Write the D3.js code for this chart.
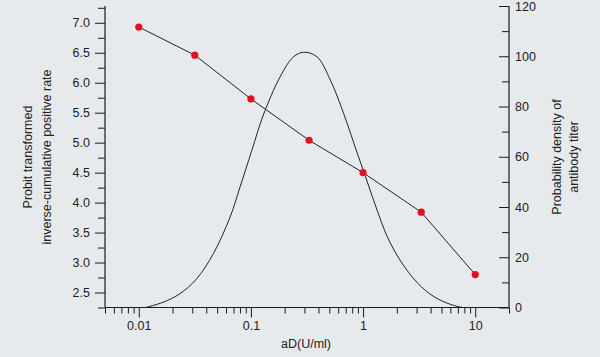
<!DOCTYPE html>
<html>
<head>
<meta charset="utf-8">
<script src="https://cdn.jsdelivr.net/npm/d3@7"></script>
<style>
html,body{margin:0;padding:0;background:#e7eaed;}
svg{display:block;}
text{font-family:"Liberation Sans",Arial,sans-serif;fill:#222;}
</style>
</head>
<body>
<svg id="chart" width="600" height="357"></svg>
<script>
// Probit points (left axis)
const probitX = [0.01, 0.0316, 0.1, 0.33, 1, 3.3, 10];
const probitY = [6.93, 6.46, 5.73, 5.04, 4.50, 3.84, 2.80];

// Probability density curve (right axis)
const densX = [0.0115, 0.0165, 0.0233, 0.0328, 0.0462, 0.0652, 0.080, 0.102, 0.129, 0.182, 0.240, 0.295, 0.388, 0.511, 0.671, 0.91, 1.09, 1.34, 1.64, 2.16, 3.05, 4.29, 6.05, 7.7];
const densY = [0, 2.1, 5.5, 11.4, 21.4, 36.0, 48.0, 62.6, 76.6, 91.8, 99.8, 101.6, 99.8, 90.5, 77.2, 60, 50, 38.5, 28.3, 18.5, 9.8, 4.3, 1.2, 0];

// Tick labels
const xMajorTicks = [0.01, 0.1, 1, 10];
const xTickLabels = ["0.01", "0.1", "1", "10"];
const leftMajorTicks = [2.5, 3.0, 3.5, 4.0, 4.5, 5.0, 5.5, 6.0, 6.5, 7.0];
const rightMajorTicks = [0, 20, 40, 60, 80, 100, 120];

const xTitle = "aD(U/ml)";
const leftTitle = ["Probit transformed", "inverse-cumulative positive rate"];
const rightTitle = ["Probability density of", "antibody titer"];

const svg = d3.select("#chart");
const L = 105, R = 509, T = 6, B = 307.5;

const x = d3.scaleLog().domain([0.005, 20]).range([L, R]);
const yL = d3.scaleLinear().domain([2.25, 7.28]).range([B, T]);
const yR = d3.scaleLinear().domain([0, 120]).range([B, T]);

// minor tick values
const xMinor = [];
[0.001, 0.01, 0.1, 1].forEach(d => { for (let k = 2; k <= 9; k++) { const v = +(d * k).toPrecision(3); if (v >= 0.005 && v <= 20) xMinor.push(v); } });
xMinor.push(20);
const leftMinor = d3.range(2.25, 7.3, 0.5).map(v => +v.toFixed(2));
const rightMinor = d3.range(10, 120, 20);

const g = svg.append("g");
const stroke = "#1a1a1a";

// X axis
const xAxisMajor = d3.axisBottom(x).tickValues(xMajorTicks).tickSize(10).tickPadding(4)
  .tickFormat((d, i) => xTickLabels[i]);
const xAx = g.append("g").attr("transform", `translate(0,${B})`).call(xAxisMajor);
const xAxMinor = g.append("g").attr("transform", `translate(0,${B})`)
  .call(d3.axisBottom(x).tickValues(xMinor).tickSize(6).tickFormat(""));
xAxMinor.select(".domain").remove();

// Left axis
const lAx = g.append("g").attr("transform", `translate(${L},0)`)
  .call(d3.axisLeft(yL).tickValues(leftMajorTicks).tickSize(10).tickPadding(5).tickFormat(d3.format(".1f")));
const lAxMinor = g.append("g").attr("transform", `translate(${L},0)`)
  .call(d3.axisLeft(yL).tickValues(leftMinor).tickSize(7).tickFormat(""));
lAxMinor.select(".domain").remove();

// Right axis: ticks point inward, labels outside
const rAx = g.append("g").attr("transform", `translate(${R},0)`)
  .call(d3.axisRight(yR).tickValues(rightMajorTicks).tickSize(0).tickPadding(6));
rAx.selectAll(".tick line").attr("x2", -10).attr("stroke", stroke);
const rAxMinor = g.append("g").attr("transform", `translate(${R},0)`)
  .call(d3.axisRight(yR).tickValues(rightMinor).tickSize(0).tickFormat(""));
rAxMinor.selectAll(".tick line").attr("x2", -7).attr("stroke", stroke);
rAxMinor.select(".domain").remove();

svg.selectAll(".domain").attr("stroke", stroke).attr("stroke-width", 1.2);
svg.selectAll(".tick line").attr("stroke", stroke).attr("stroke-width", 1);
svg.selectAll(".tick text").style("font-family", '"Liberation Sans",Arial,sans-serif')
  .style("font-size", "12.5px").attr("fill", "#222");
xAx.select(".domain").attr("d", `M${L},0H${R}`);
lAx.select(".domain").attr("d", `M0,${T}V${B}`);
rAx.select(".domain").attr("d", `M0,${T}V${B}`);

// Density curve
const densData = densX.map((d, i) => [d, densY[i]]);
g.append("path").datum(densData)
  .attr("fill", "none").attr("stroke", "#222").attr("stroke-width", 1)
  .attr("d", d3.line().x(d => x(d[0])).y(d => Math.min(yR(d[1]), B)).curve(d3.curveCatmullRom.alpha(0.5)));

// Probit line
const probData = probitX.map((d, i) => [d, probitY[i]]);
g.append("path").datum(probData)
  .attr("fill", "none").attr("stroke", "#222").attr("stroke-width", 1)
  .attr("d", d3.line().x(d => x(d[0])).y(d => yL(d[1])));
g.selectAll("circle.pt").data(probData).enter().append("circle")
  .attr("class", "pt")
  .attr("cx", d => x(d[0])).attr("cy", d => yL(d[1])).attr("r", 3.6)
  .attr("fill", "#e0101e");

// Titles
svg.append("text").attr("x", 306).attr("y", 348).attr("text-anchor", "middle")
  .style("font-size", "12.5px").text(xTitle);

const lt = svg.append("text").attr("transform", "translate(32,157) rotate(-90)")
  .attr("text-anchor", "middle").style("font-size", "12.5px");
lt.append("tspan").attr("x", 0).attr("y", 0).text(leftTitle[0]);
lt.append("tspan").attr("x", 0).attr("y", 18.5).text(leftTitle[1]);

const rt = svg.append("text").attr("transform", "translate(561,157) rotate(-90)")
  .attr("text-anchor", "middle").style("font-size", "12.5px");
rt.append("tspan").attr("x", 0).attr("y", 0).text(rightTitle[0]);
rt.append("tspan").attr("x", 0).attr("y", 17).text(rightTitle[1]);
</script>
</body>
</html>
